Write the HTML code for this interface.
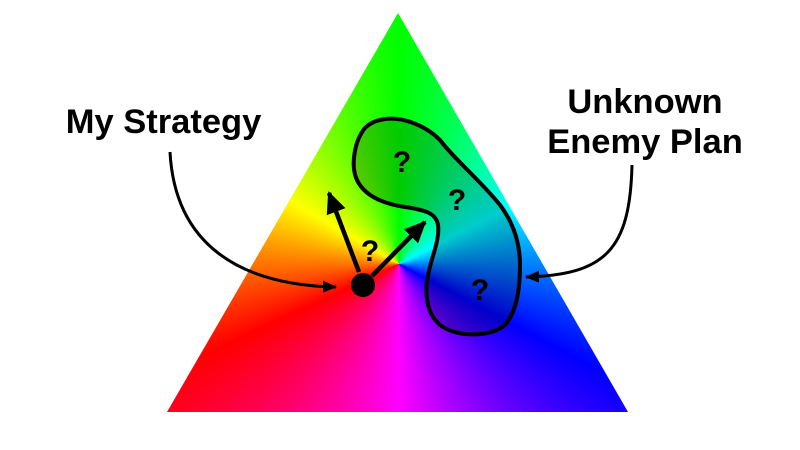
<!DOCTYPE html>
<html><head><style>
html,body{margin:0;padding:0;background:#fff;}
#w{position:relative;width:800px;height:450px;overflow:hidden;}
#tri{position:absolute;left:0;top:0;width:800px;height:450px;
clip-path:polygon(398px 13px,628px 412px,167px 412px);
background:conic-gradient(from 0deg at 399px 264px,#00ff00 0deg,#00ffff 63deg,#0000ff 118deg,#ff00ff 180deg,#ff0000 245deg,#ffff00 300deg,#00ff00 360deg);}
svg{position:absolute;left:0;top:0;}
text{font-family:"Liberation Sans",sans-serif;font-weight:bold;}
</style></head><body><div id="w">
<div id="tri"></div>
<svg width="800" height="450" viewBox="0 0 800 450">
<defs>
<marker id="a" markerWidth="14" markerHeight="12" refX="13" refY="6" orient="auto" markerUnits="userSpaceOnUse" viewBox="0 0 14 12"><path d="M0,0 L14,6 L0,12 Z" fill="#000"/></marker>
<marker id="b" markerWidth="22" markerHeight="20" refX="20" refY="10" orient="auto" markerUnits="userSpaceOnUse" viewBox="0 0 22 20"><path d="M0,0 L22,10 L0,20 Z" fill="#000"/></marker>
</defs>
<path d="M380,120 C400,115 425,125 440,140 C455,160 480,180 500,205 C515,225 520,245 520,265 C520,285 518,310 505,325 C490,338 455,337 440,325 C425,312 425,290 428,275 C432,255 440,240 438,225 C436,213 425,210 405,207 C385,204 365,197 357,180 C350,165 355,140 365,128 C370,123 375,121 380,120 Z" fill="rgba(0,0,0,0.2)" stroke="#000" stroke-width="4"/>
<line x1="359" y1="272" x2="329" y2="193" stroke="#000" stroke-width="4.5" marker-end="url(#b)"/>
<line x1="372" y1="276" x2="425" y2="222" stroke="#000" stroke-width="4.5" marker-end="url(#b)"/>
<circle cx="363" cy="285" r="12" fill="#000"/>
<g font-size="30" text-anchor="middle" font-family="Liberation Sans,sans-serif" font-weight="bold">
<text x="370" y="261">?</text>
<text x="402" y="172">?</text>
<text x="457" y="210">?</text>
<text x="480" y="300">?</text>
</g>
<path d="M170,152 C175,245 240,285 336,287" fill="none" stroke="#000" stroke-width="3" marker-end="url(#a)"/>
<path d="M632,165 C630,250 605,275 526,277" fill="none" stroke="#000" stroke-width="3" marker-end="url(#a)"/>
<text x="163.5" y="133" font-size="34.5" text-anchor="middle">My Strategy</text>
<text x="645" y="113" font-size="34.5" text-anchor="middle">Unknown</text>
<text x="645" y="153" font-size="34.5" text-anchor="middle">Enemy Plan</text>
</svg>
</div></body></html>
